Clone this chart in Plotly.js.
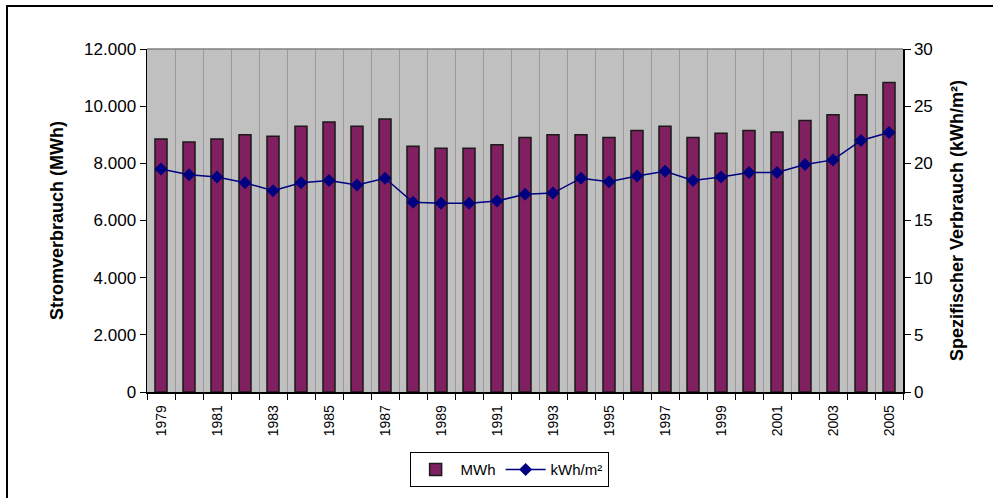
<!DOCTYPE html>
<html>
<head>
<meta charset="utf-8">
<script src="https://cdn.plot.ly/plotly-3.0.1.min.js"></script>
<style>
  html, body { margin: 0; padding: 0; background: #ffffff; }
  #chart { width: 993px; height: 498px; position: relative; }
  #frame { position: absolute; left: 6px; top: 5px; width: 1000px; height: 600px;
           border-left: 2px solid #000; border-top: 2px solid #000; pointer-events: none; z-index: 5; }
</style>
</head>
<body>
<div id="chart"></div>
<div id="frame"></div>
<script>
// ---- data ----
const years = [1979,1980,1981,1982,1983,1984,1985,1986,1987,1988,1989,1990,1991,1992,
               1993,1994,1995,1996,1997,1998,1999,2000,2001,2002,2003,2004,2005];
const mwh = [8850,8750,8850,9000,8950,9300,9450,9300,9550,8600,8530,8530,8650,8900,
             9000,9000,8900,9150,9300,8900,9050,9150,9100,9500,9700,10400,10830];
const kwhPerM2 = [19.5,19.0,18.8,18.3,17.6,18.3,18.5,18.1,18.7,16.6,16.5,16.5,16.7,17.3,
                  17.4,18.7,18.4,18.9,19.3,18.5,18.8,19.2,19.2,19.9,20.3,22.0,22.7];
const labelYears = years.filter(y => y % 2 === 1);
const boundaries = years.map(y => y - 0.5).concat([years[years.length - 1] + 0.5]);

const FONT = 'Liberation Sans, Arial, sans-serif';

const traces = [
  {
    type: 'bar', name: 'MWh', x: years, y: mwh,
    marker: { color: '#802060', line: { color: '#1a1a1a', width: 1.5 } },
    yaxis: 'y'
  },
  {
    type: 'scatter', mode: 'lines+markers', name: 'kWh/m²', x: years, y: kwhPerM2,
    line: { color: '#000080', width: 1.5 },
    marker: { symbol: 'diamond', size: 10, color: '#000080' },
    yaxis: 'y2'
  }
];

const layout = {
  width: 993, height: 498,
  margin: { l: 147, r: 90, t: 49, b: 105 },
  paper_bgcolor: '#ffffff',
  plot_bgcolor: '#c0c0c0',
  separators: ',.',
  font: { family: FONT, color: '#000', size: 14 },
  bargap: 0.57,
  showlegend: true,
  legend: {
    orientation: 'h', x: 0.479, xanchor: 'center', y: -0.172, yanchor: 'top',
    bgcolor: '#ffffff', bordercolor: '#000', borderwidth: 1,
    font: { family: FONT, size: 15, color: '#000' },
    itemwidth: 40, tracegroupgap: 0
  },
  xaxis: {
    type: 'linear',
    range: [years[0] - 0.5, years[years.length - 1] + 0.5],
    tickmode: 'array', tickvals: labelYears, ticktext: labelYears.map(String),
    tickangle: -90, ticks: '', showgrid: false, zeroline: false,
    tickfont: { family: FONT, size: 14, color: '#000' },
    ticklabelstandoff: 6,
    showline: true, linecolor: '#000', linewidth: 1.5,
    minor: { tickmode: 'array', tickvals: boundaries, ticks: 'outside', ticklen: 6,
             tickcolor: '#000', tickwidth: 1, showgrid: true, gridcolor: '#9a9a9a', gridwidth: 1 },
    fixedrange: true
  },
  yaxis: {
    range: [0, 12000], dtick: 2000, tickformat: ',d',
    ticks: 'outside', ticklen: 6, tickcolor: '#000',
    showgrid: false, zeroline: false,
    showline: true, linecolor: '#000', linewidth: 1.5,
    tickfont: { family: FONT, size: 17, color: '#000' },
    title: { text: 'Stromverbrauch (MWh)', font: { family: FONT, size: 18, color: '#000', weight: 'bold' }, standoff: 16 },
    automargin: false
  },
  yaxis2: {
    overlaying: 'y', side: 'right',
    range: [0, 30], dtick: 5,
    ticks: 'outside', ticklen: 6, tickcolor: '#000',
    showgrid: false, zeroline: false,
    showline: true, linecolor: '#000', linewidth: 1.5,
    tickfont: { family: FONT, size: 17, color: '#000' },
    title: { text: 'Spezifischer Verbrauch (kWh/m²)', font: { family: FONT, size: 18, color: '#000', weight: 'bold' }, standoff: 18 },
    automargin: false
  },
  shapes: [
    { type: 'line', xref: 'paper', yref: 'paper', x0: 0, x1: 1, y0: 1, y1: 1,
      line: { color: '#808080', width: 1.5 } }
  ]
};

Plotly.newPlot('chart', traces, layout, { displayModeBar: false, staticPlot: true });
</script>
</body>
</html>
